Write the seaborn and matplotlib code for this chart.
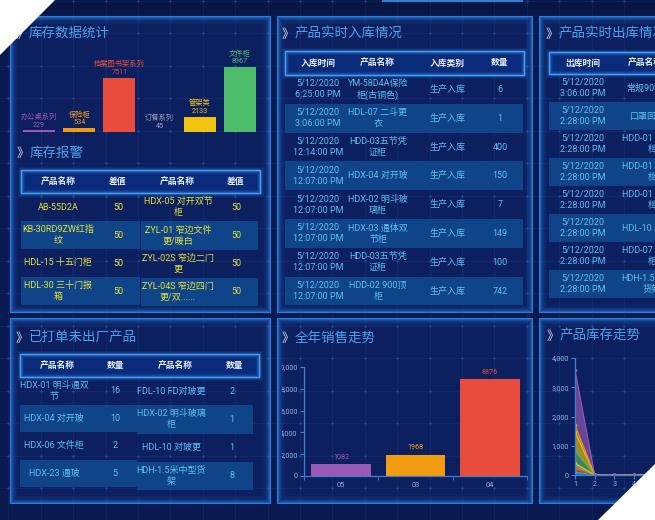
import numpy as np
import matplotlib
matplotlib.use('Agg')
import matplotlib.pyplot as plt
from matplotlib.patches import Rectangle, Polygon
from matplotlib.ticker import StrMethodFormatter
from matplotlib.transforms import Bbox, TransformedBbox
import seaborn as sns

plt.rcParams['font.family'] = ['Roboto', 'Noto Sans CJK SC', 'DejaVu Sans']

W, H, DPI = 655, 520, 100

# ---------------- data ----------------
stock_cats = ['办公桌系列', '保险柜', '档案图书架系列', '订餐系列', '管架类', '文件柜']
stock_vals = [229, 534, 7511, 45, 2133, 8967]
stock_colors = ['#9b59b6', '#f39c12', '#e74c3c', '#2c3e6e', '#f1c40f', '#4fbe6c']
stock_label_colors = ['#9b59b6', '#f39c12', '#e74c3c', '#9aa3b8', '#f1c40f', '#4fbe6c']

alarm_headers = ['产品名称', '差值', '产品名称', '差值']
alarm_left_names = ['AB-55D2A', 'KB-30RD9ZW红指\n纹', 'HDL-15 十五门柜', 'HDL-30 三十门报\n箱']
alarm_left_vals = [50, 50, 50, 50]
alarm_right_names = ['HDX-05 对开双节\n柜', 'ZYL-01 窄边文件\n更/暖白', 'ZYL-02S 窄边二门\n更', 'ZYL-04S 窄边四门\n更/双......']
alarm_right_vals = [50, 50, 50, 50]

in_headers = ['入库时间', '产品名称', '入库类别', '数量']
in_times = ['5/12/2020\n6:25:00 PM', '5/12/2020\n3:06:00 PM', '5/12/2020\n12:14:00 PM',
            '5/12/2020\n12:07:00 PM', '5/12/2020\n12:07:00 PM', '5/12/2020\n12:07:00 PM',
            '5/12/2020\n12:07:00 PM', '5/12/2020\n12:07:00 PM']
in_names = ['YM-58D4A保险\n柜(古铜色)', 'HDL-07 二斗更\n衣', 'HDD-03五节凭\n证柜', 'HDX-04 对开玻',
            'HDX-02 明斗玻\n璃柜', 'HDX-03 通体双\n节柜', 'HDD-03五节凭\n证柜', 'HDD-02 900顶\n柜']
in_types = ['生产入库', '生产入库', '生产入库', '生产入库', '生产入库', '生产入库', '生产入库', '生产入库']
in_qty = [6, 1, 400, 150, 7, 149, 100, 742]

out_headers = ['出库时间', '产品名称']
out_times = ['5/12/2020\n3:06:00 PM', '5/12/2020\n2:28:00 PM', '5/12/2020\n2:28:00 PM', '5/12/2020\n2:28:00 PM',
             '5/12/2020\n2:28:00 PM', '5/12/2020\n2:28:00 PM', '5/12/2020\n2:28:00 PM', '5/12/2020\n2:28:00 PM']
out_names = ['常规900顶柜', '口罩回收柜', 'HDD-01 五节柜\n档', 'HDD-01 五节柜\n档', 'HDD-01 五节柜\n档',
             'HDL-10 对玻更', 'HDD-07 明斗玻\n柜', 'HDH-1.5米中型\n货架']

ship_headers = ['产品名称', '数量', '产品名称', '数量']
ship_left_names = ['HDX-01 明斗通双\n节', 'HDX-04 对开玻', 'HDX-06 文件柜', 'HDX-23 通玻']
ship_left_qty = [16, 10, 2, 5]
ship_right_names = ['FDL-10 FD对玻更', 'HDX-02 明斗玻璃\n柜', 'HDL-10 对玻更', 'HDH-1.5米中型货\n架']
ship_right_qty = [2, 1, 1, 8]

sales_months = ['05', '03', '04']
sales_vals = [1082, 1968, 8876]
sales_colors = ['#9b59b6', '#f39c12', '#e74c3c']

trend_x = [1, 2, 3, 4, 5, 6]
trend_series = [
    [100, 0, 0, 0, 0, 0],
    [100, 0, 0, 0, 0, 0],
    [200, 0, 0, 0, 0, 0],
    [430, 0, 0, 0, 0, 0],
    [650, 0, 0, 0, 0, 0],
    [220, 0, 0, 0, 0, 0],
    [1900, 0, 0, 0, 0, 0],
]
trend_colors = ['#3aa6c9', '#e74c3c', '#d4d03a', '#5cb85c', '#f1c40f', '#f39c12', '#9b59b6']

# ---------------- styling ----------------
BG = '#0a1a50'
PANEL = '#0c2060'
ROW_LIGHT = '#0f4488'
GLOW = '#2a86e6'
TITLE_C = '#4aa3e8'
TEXT_C = '#5cc0f2'
YELLOW_C = '#e3e03a'
HEAD_C = '#e8f0ff'
AXIS_C = '#3f7fd0'
TICK_C = '#8fb3e0'
BODY_FS = 6.5

fig = plt.figure(figsize=(W / DPI, H / DPI), dpi=DPI, facecolor=BG)
bg = fig.add_axes([0, 0, 1, 1])
bg.set_xlim(0, W)
bg.set_ylim(H, 0)
bg.axis('off')


def px_axes(x0, y0, x1, y1):
    ax = fig.add_axes([x0 / W, 1 - y1 / H, (x1 - x0) / W, (y1 - y0) / H])
    ax.set_facecolor('none')
    return ax


def panel(x0, y0, x1, y1):
    bg.add_patch(Rectangle((x0, y0), x1 - x0, y1 - y0, facecolor=PANEL, edgecolor='none', zorder=1))
    for i, a in enumerate([0.95, 0.6, 0.4, 0.26, 0.17, 0.11, 0.07, 0.04]):
        bg.add_patch(Rectangle((x0 + i, y0 + i), x1 - x0 - 2 * i, y1 - y0 - 2 * i, fill=False,
                               edgecolor=GLOW, lw=0.75, alpha=a, zorder=2))


def title(x, y, s):
    bg.text(x, y, '》', color='#d6e8ff', fontsize=9, va='center', ha='left', zorder=7,
            family=['Noto Sans CJK SC', 'DejaVu Sans'])
    bg.text(x + 13, y, s, color=TITLE_C, fontsize=9.7, va='center', ha='left', zorder=7,
            family=['Noto Sans CJK SC', 'DejaVu Sans'])


def header(x0, y0, x1, y1, labels, centers):
    for i, a in enumerate([0.35, 0.2, 0.1]):
        bg.add_patch(Rectangle((x0 - 1 - i, y0 - 1 - i), x1 - x0 + 2 + 2 * i, y1 - y0 + 2 + 2 * i,
                               fill=False, edgecolor=GLOW, lw=0.75, alpha=a, zorder=5))
    bg.add_patch(Rectangle((x0, y0), x1 - x0, y1 - y0, facecolor='#0a2b7a', edgecolor='#4a9ff0',
                           lw=1.0, zorder=5))
    for i, a in enumerate([0.5, 0.3, 0.15]):
        bg.add_patch(Rectangle((x0 + 1 + i, y0 + 1 + i), x1 - x0 - 2 - 2 * i, y1 - y0 - 2 - 2 * i,
                               fill=False, edgecolor=GLOW, lw=0.75, alpha=a, zorder=5))
    for lab, cx in zip(labels, centers):
        bg.text(cx, (y0 + y1) / 2, lab, color=HEAD_C, fontsize=6.3, fontweight='bold',
                ha='center', va='center', zorder=7)


def rows(x0, x1, y0, rh, n):
    for i in range(n):
        if i % 2 == 1:
            bg.add_patch(Rectangle((x0, y0 + i * rh), x1 - x0, rh, facecolor=ROW_LIGHT,
                                   edgecolor='none', zorder=4))


def column(cx, y0, rh, items, color):
    for i, s in enumerate(items):
        bg.text(cx, y0 + (i + 0.5) * rh, str(s), color=color, fontsize=BODY_FS, ha='center',
                va='center', linespacing=1.3, zorder=7)


# darker top strip + a thin edge of the panel above
bg.add_patch(Rectangle((0, 0), W, 14, facecolor='#081646', edgecolor='none', zorder=0))
bg.plot([383, 522], [1, 1], color='#2f7fd6', lw=1.5, zorder=2)

# panels
for r in [(10, 16, 270, 312), (277, 16, 532, 312), (539, 16, 680, 312),
          (10, 318, 270, 503), (277, 318, 532, 503), (539, 318, 680, 503)]:
    panel(*r)

# background grid
for gx in np.arange(8.4, W, 32.4):
    bg.plot([gx, gx], [0, H], color='#3a6cc8', lw=0.6, alpha=0.14, zorder=3)
for gy in np.arange(0.5, H, 32.5):
    bg.plot([0, W], [gy, gy], color='#3a6cc8', lw=0.6, alpha=0.14, zorder=3)
gxx, gyy = np.meshgrid(np.arange(8.4, W, 32.4), np.arange(0.5, H, 32.5))
bg.scatter(gxx.ravel(), gyy.ravel(), s=3, color='#4a7fd8', alpha=0.35, zorder=3, linewidths=0)

# titles
title(16, 34, '库存数据统计')
title(17, 153, '库存报警')
title(282, 34, '产品实时入库情况')
title(546, 34, '产品实时出库情况')
title(16, 338, '已打单未出厂产品')
title(282, 338, '全年销售走势')
title(547, 336, '产品库存走势')

# ---- 库存数据统计 bar chart ----
ax1 = px_axes(19, 40, 260, 132)
sns.barplot(x=stock_cats, y=stock_vals, hue=stock_cats, palette=stock_colors, legend=False,
            ax=ax1, width=0.8, saturation=1)
ax1.set_ylim(0, max(stock_vals) * 92 / 65)
ax1.set_xlim(-0.5, len(stock_cats) - 0.5)
ax1.axis('off')
for i, (c, v) in enumerate(zip(stock_cats, stock_vals)):
    ax1.annotate(str(v), (i, v), xytext=(0, 1.2), textcoords='offset points', ha='center',
                 va='bottom', fontsize=5.2, color=stock_label_colors[i])
    ax1.annotate(c, (i, v), xytext=(0, 6.8), textcoords='offset points', ha='center',
                 va='bottom', fontsize=5.2, color=stock_label_colors[i])

# ---- 库存报警 table ----
header(21, 170, 260, 193, alarm_headers, [58, 118, 177, 236])
rows(21, 140, 193, 28, 4)
rows(141, 258, 193, 28.25, 4)
column(58, 193, 28, alarm_left_names, YELLOW_C)
column(118, 193, 28, alarm_left_vals, YELLOW_C)
column(178, 193, 28.25, alarm_right_names, YELLOW_C)
column(236, 193, 28.25, alarm_right_vals, YELLOW_C)

# ---- 产品实时入库情况 ----
header(285, 51, 524, 75, in_headers, [318, 377, 447, 500])
rows(285, 523, 75, 28.8, 8)
column(318, 75, 28.8, in_times, TEXT_C)
column(378, 75, 28.8, in_names, TEXT_C)
column(447, 75, 28.8, in_types, TEXT_C)
column(500, 75, 28.8, in_qty, TEXT_C)

# ---- 产品实时出库情况 ----
header(549, 52, 680, 74, out_headers, [583, 645])
rows(549, 680, 74, 28, 8)
column(583, 74, 28, out_times, TEXT_C)
column(652, 74, 28, out_names, TEXT_C)

# ---- 已打单未出厂产品 ----
header(20, 354, 259, 377, ship_headers, [57, 116, 175, 235])
rows(20, 137, 377, 27.5, 4)
rows(137, 253, 377, 28.25, 4)
column(54, 377, 27.5, ship_left_names, TEXT_C)
column(115, 377, 27.5, ship_left_qty, TEXT_C)
column(171, 377, 28.25, ship_right_names, TEXT_C)
column(232, 377, 28.25, ship_right_qty, TEXT_C)

# ---- 全年销售走势 ----
ax5 = px_axes(304, 367, 527, 476)
sns.barplot(x=sales_months, y=sales_vals, hue=sales_months, palette=sales_colors, legend=False,
            ax=ax5, width=0.8, saturation=1)
ax5.set_ylim(0, 10000)
ax5.set_xlim(-0.5, len(sales_months) - 0.5)
ax5.set_yticks(range(0, 10001, 2000))
ax5.yaxis.set_major_formatter(StrMethodFormatter('{x:,.0f}'))
ax5.set_xticks(np.arange(-0.5, len(sales_months), 1.0), minor=True)
ax5.tick_params(axis='x', which='major', length=0, labelsize=5.4, labelcolor=TICK_C, pad=4)
ax5.tick_params(axis='x', which='minor', length=3, color=AXIS_C)
ax5.tick_params(axis='y', length=3, color=AXIS_C, labelsize=5.2, labelcolor=TICK_C, pad=1.5)
for s in ['top', 'right']:
    ax5.spines[s].set_visible(False)
for s in ['left', 'bottom']:
    ax5.spines[s].set_color(AXIS_C)
    ax5.spines[s].set_linewidth(0.9)
ax5.set_xlabel('')
ax5.set_ylabel('')
for i, v in enumerate(sales_vals):
    ax5.annotate(str(v), (i, v), xytext=(0, 2.5), textcoords='offset points', ha='center',
                 va='bottom', fontsize=5.2, color=sales_colors[i])
clip = TransformedBbox(Bbox.from_extents(282 / W, 0, 1, 1), fig.transFigure)
for lbl in ax5.get_yticklabels():
    lbl.set_clip_on(True)
    lbl.set_clip_box(clip)

# ---- 产品库存走势 ----
ax6 = px_axes(575, 358, 575 + 19.7 * (len(trend_x) - 1), 475)
ax6.stackplot(trend_x, *trend_series, colors=trend_colors, alpha=0.65)
cum = np.cumsum(np.array(trend_series), axis=0)
for i, c in enumerate(trend_colors):
    ax6.plot(trend_x, cum[i], color=c, lw=0.8, marker='o', ms=1.6)
ax6.set_ylim(0, 4000)
ax6.set_xlim(trend_x[0], trend_x[-1])
ax6.set_yticks(range(0, 4001, 1000))
ax6.set_xticks(trend_x)
ax6.yaxis.set_major_formatter(StrMethodFormatter('{x:,.0f}'))
ax6.tick_params(axis='both', length=3, color=AXIS_C, labelsize=5.2, labelcolor=TICK_C, pad=1.5)
for s in ['top', 'right']:
    ax6.spines[s].set_visible(False)
for s in ['left', 'bottom']:
    ax6.spines[s].set_color(AXIS_C)
    ax6.spines[s].set_linewidth(0.9)

# white corner triangles of the photographed screen
top = fig.add_axes([0, 0, 1, 1], zorder=20)
top.set_xlim(0, W)
top.set_ylim(H, 0)
top.axis('off')
top.add_patch(Polygon([(0, 0), (55, 0), (0, 55)], closed=True, facecolor='white', edgecolor='none'))
top.add_patch(Polygon([(W, 464), (W, H), (598, H)], closed=True, facecolor='white', edgecolor='none'))

fig.savefig('out.png', dpi=DPI, facecolor=BG)
